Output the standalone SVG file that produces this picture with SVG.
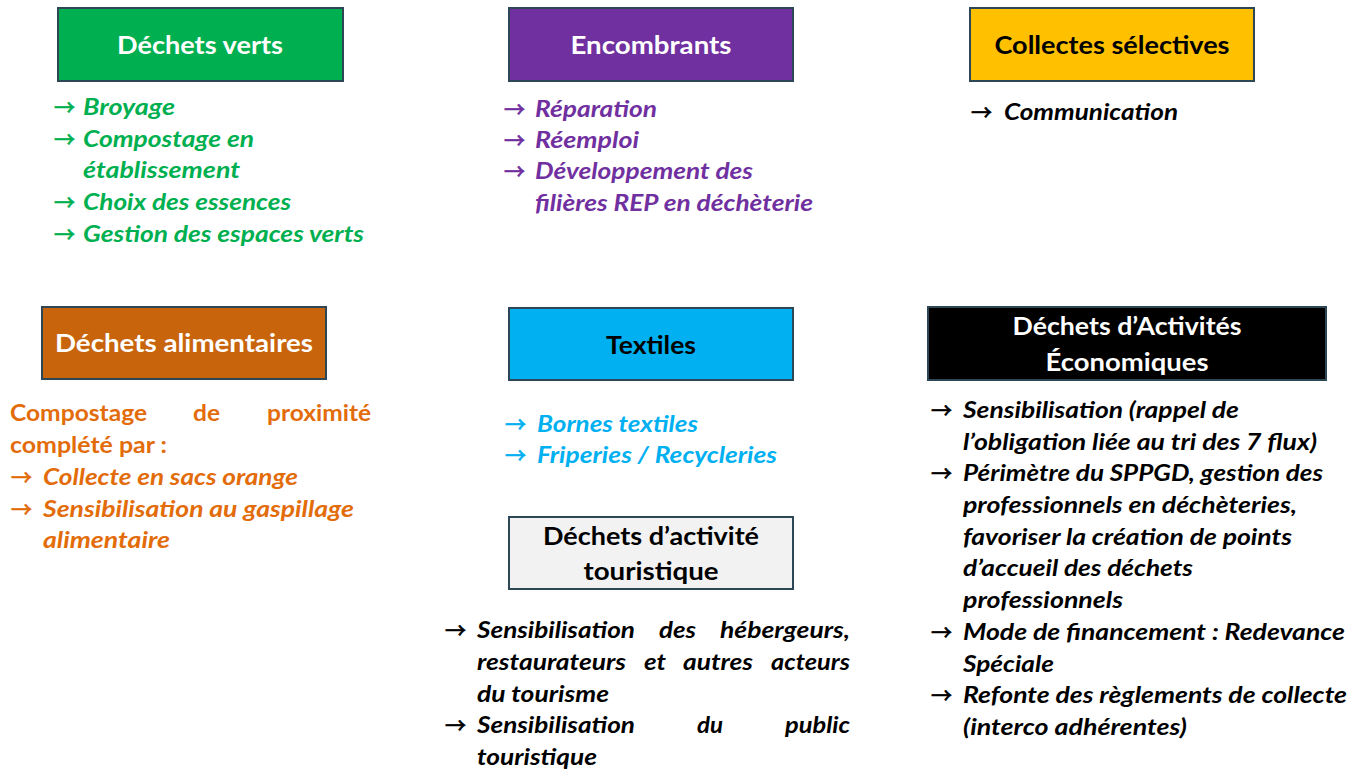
<svg xmlns="http://www.w3.org/2000/svg" width="1362" height="771" viewBox="0 0 1362 771">
<style>
.box{stroke:#2E4756;stroke-width:2}
.h{font-family:Lato,"Liberation Sans",sans-serif;font-weight:bold;font-size:24px;text-anchor:middle}
.t{font-family:Lato,"Liberation Sans",sans-serif;font-weight:bold;font-style:italic;font-size:23px}
.n{font-family:Lato,"Liberation Sans",sans-serif;font-weight:bold;font-size:23px}
.a{font-family:"Noto Sans CJK JP","DejaVu Sans",sans-serif;font-size:21px;stroke-width:0.7}
.g{fill:#00B050}.p{fill:#7030A0}.k{fill:#000}.o{fill:#E36C0A}.b{fill:#00B0F0}.w{fill:#fff}
.a.g{stroke:#00B050}.a.p{stroke:#7030A0}.a.k{stroke:#000}.a.o{stroke:#E36C0A}.a.b{stroke:#00B0F0}
</style>
<rect width="1362" height="771" fill="#fff"/>
<g id="dechets-verts">
<rect class="box" x="58" y="8" width="285" height="73" fill="#00B050"/>
<text class="h w" x="200" y="54" textLength="166" lengthAdjust="spacingAndGlyphs">Déchets verts</text>
<text class="a g" x="54" y="115">→</text><text class="t g" x="83" y="115" textLength="92" lengthAdjust="spacingAndGlyphs">Broyage</text>
<text class="a g" x="54" y="147">→</text><text class="t g" x="83" y="147" textLength="171" lengthAdjust="spacingAndGlyphs">Compostage en</text>
<text class="t g" x="83" y="178" textLength="157" lengthAdjust="spacingAndGlyphs">établissement</text>
<text class="a g" x="54" y="210">→</text><text class="t g" x="83" y="210" textLength="208" lengthAdjust="spacingAndGlyphs">Choix des essences</text>
<text class="a g" x="54" y="242">→</text><text class="t g" x="83" y="242" textLength="281" lengthAdjust="spacingAndGlyphs">Gestion des espaces verts</text>
</g>
<g id="encombrants">
<rect class="box" x="509" y="8" width="284" height="73" fill="#7030A0"/>
<text class="h w" x="651" y="54" textLength="161" lengthAdjust="spacingAndGlyphs">Encombrants</text>
<text class="a p" x="504" y="117">→</text><text class="t p" x="535" y="117" textLength="122" lengthAdjust="spacingAndGlyphs">Réparation</text>
<text class="a p" x="504" y="148">→</text><text class="t p" x="535" y="148" textLength="104" lengthAdjust="spacingAndGlyphs">Réemploi</text>
<text class="a p" x="504" y="179">→</text><text class="t p" x="535" y="179" textLength="218" lengthAdjust="spacingAndGlyphs">Développement des</text>
<text class="t p" x="535" y="211" textLength="278" lengthAdjust="spacingAndGlyphs">filières REP en déchèterie</text>
</g>
<g id="collectes-selectives">
<rect class="box" x="970" y="8" width="284" height="73" fill="#FFC000"/>
<text class="h k" x="1112" y="54" textLength="235" lengthAdjust="spacingAndGlyphs">Collectes sélectives</text>
<text class="a k" x="971" y="120">→</text><text class="t k" x="1004" y="120" textLength="174" lengthAdjust="spacingAndGlyphs">Communication</text>
</g>
<g id="dechets-alimentaires">
<rect class="box" x="42" y="307" width="284" height="72" fill="#C8640C"/>
<text class="h w" x="184" y="352" textLength="258" lengthAdjust="spacingAndGlyphs">Déchets alimentaires</text>
<text class="n o" x="10" y="421" textLength="137" lengthAdjust="spacingAndGlyphs">Compostage</text>
<text class="n o" x="193" y="421" textLength="27" lengthAdjust="spacingAndGlyphs">de</text>
<text class="n o" x="267" y="421" textLength="104" lengthAdjust="spacingAndGlyphs">proximité</text>
<text class="n o" x="10" y="453" textLength="157" lengthAdjust="spacingAndGlyphs">complété par :</text>
<text class="a o" x="11" y="485">→</text><text class="t o" x="43" y="485" textLength="255" lengthAdjust="spacingAndGlyphs">Collecte en sacs orange</text>
<text class="a o" x="11" y="517">→</text><text class="t o" x="43" y="517" textLength="311" lengthAdjust="spacingAndGlyphs">Sensibilisation au gaspillage</text>
<text class="t o" x="43" y="548" textLength="127" lengthAdjust="spacingAndGlyphs">alimentaire</text>
</g>
<g id="textiles">
<rect class="box" x="509" y="308" width="284" height="72" fill="#00B0F0"/>
<text class="h k" x="651" y="354" textLength="90" lengthAdjust="spacingAndGlyphs">Textiles</text>
<text class="a b" x="505" y="432">→</text><text class="t b" x="537" y="432" textLength="161" lengthAdjust="spacingAndGlyphs">Bornes textiles</text>
<text class="a b" x="505" y="463">→</text><text class="t b" x="537" y="463" textLength="240" lengthAdjust="spacingAndGlyphs">Friperies / Recycleries</text>
</g>
<g id="dechets-touristiques">
<rect class="box" x="509" y="517" width="284" height="72" fill="#F2F2F2"/>
<text class="h k" x="651" y="545" textLength="216" lengthAdjust="spacingAndGlyphs">Déchets d’activité</text>
<text class="h k" x="651" y="580" textLength="135" lengthAdjust="spacingAndGlyphs">touristique</text>
<text class="a k" x="445" y="638">→</text>
<text class="t k" x="477" y="638" textLength="158" lengthAdjust="spacingAndGlyphs">Sensibilisation</text>
<text class="t k" x="659" y="638" textLength="37" lengthAdjust="spacingAndGlyphs">des</text>
<text class="t k" x="720" y="638" textLength="130" lengthAdjust="spacingAndGlyphs">hébergeurs,</text>
<text class="t k" x="477" y="670" textLength="149" lengthAdjust="spacingAndGlyphs">restaurateurs</text>
<text class="t k" x="644" y="670" textLength="22" lengthAdjust="spacingAndGlyphs">et</text>
<text class="t k" x="683" y="670" textLength="70" lengthAdjust="spacingAndGlyphs">autres</text>
<text class="t k" x="771" y="670" textLength="79" lengthAdjust="spacingAndGlyphs">acteurs</text>
<text class="t k" x="477" y="702" textLength="132" lengthAdjust="spacingAndGlyphs">du tourisme</text>
<text class="a k" x="445" y="733">→</text>
<text class="t k" x="477" y="733" textLength="158" lengthAdjust="spacingAndGlyphs">Sensibilisation</text>
<text class="t k" x="697" y="733" textLength="26" lengthAdjust="spacingAndGlyphs">du</text>
<text class="t k" x="785" y="733" textLength="65" lengthAdjust="spacingAndGlyphs">public</text>
<text class="t k" x="477" y="765" textLength="120" lengthAdjust="spacingAndGlyphs">touristique</text>
</g>
<g id="dechets-activites-economiques">
<rect class="box" x="928" y="307" width="398" height="73" fill="#000"/>
<text class="h w" x="1127" y="335" textLength="229" lengthAdjust="spacingAndGlyphs">Déchets d’Activités</text>
<text class="h w" x="1127" y="371" textLength="163" lengthAdjust="spacingAndGlyphs">Économiques</text>
<text class="a k" x="931" y="418">→</text><text class="t k" x="963" y="418" textLength="276" lengthAdjust="spacingAndGlyphs">Sensibilisation (rappel de</text>
<text class="t k" x="963" y="450" textLength="354" lengthAdjust="spacingAndGlyphs">l’obligation liée au tri des 7 flux)</text>
<text class="a k" x="931" y="481">→</text><text class="t k" x="963" y="481" textLength="360" lengthAdjust="spacingAndGlyphs">Périmètre du SPPGD, gestion des</text>
<text class="t k" x="963" y="513" textLength="334" lengthAdjust="spacingAndGlyphs">professionnels en déchèteries,</text>
<text class="t k" x="963" y="545" textLength="329" lengthAdjust="spacingAndGlyphs">favoriser la création de points</text>
<text class="t k" x="963" y="576" textLength="230" lengthAdjust="spacingAndGlyphs">d’accueil des déchets</text>
<text class="t k" x="963" y="608" textLength="160" lengthAdjust="spacingAndGlyphs">professionnels</text>
<text class="a k" x="931" y="640">→</text><text class="t k" x="963" y="640" textLength="382" lengthAdjust="spacingAndGlyphs">Mode de financement : Redevance</text>
<text class="t k" x="963" y="672" textLength="91" lengthAdjust="spacingAndGlyphs">Spéciale</text>
<text class="a k" x="931" y="703">→</text><text class="t k" x="963" y="703" textLength="384" lengthAdjust="spacingAndGlyphs">Refonte des règlements de collecte</text>
<text class="t k" x="963" y="735" textLength="224" lengthAdjust="spacingAndGlyphs">(interco adhérentes)</text>
</g>
</svg>
